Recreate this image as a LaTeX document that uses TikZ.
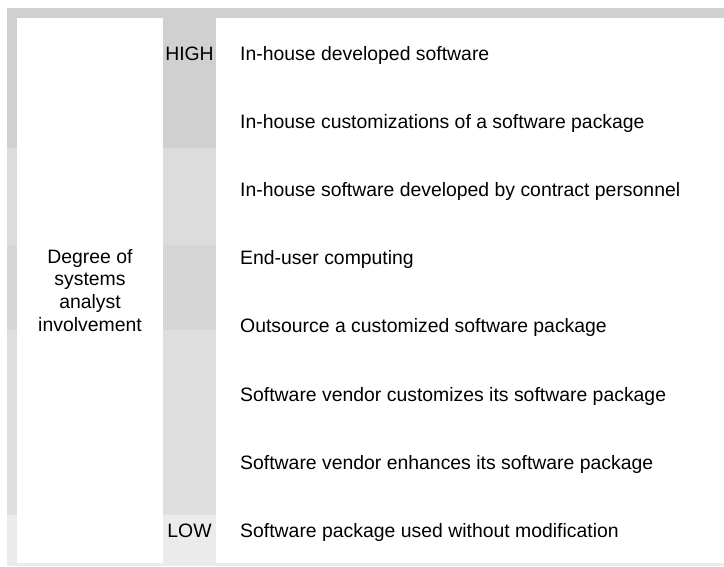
\documentclass[tikz,border=0pt]{standalone}
\usepackage{fontspec}
\setmainfont{Liberation Sans}
\definecolor{bandA}{HTML}{D0D0D0}
\definecolor{bandB}{HTML}{DCDCDC}
\definecolor{bandC}{HTML}{D5D5D5}
\definecolor{bandD}{HTML}{DFDFDF}
\definecolor{bandE}{HTML}{EBEBEB}
\begin{document}
\begin{tikzpicture}[x=1pt,y=1pt]
	\tikzstyle{every node}+=[inner sep=0pt, font=\fontsize{19.4}{22.6}\selectfont]
	\tikzstyle{choice}=[anchor=base west]
	\tikzstyle{level}=[anchor=base]
	\useasboundingbox (0,0) rectangle (724,-566);
	% shaded bands behind the panels
	\fill [bandA] (7,-8) rectangle (724,-148);
	\fill [bandB] (7,-148) rectangle (724,-245);
	\fill [bandC] (7,-245) rectangle (724,-330);
	\fill [bandD] (7,-330) rectangle (724,-515);
	\fill [bandE] (7,-515) rectangle (724,-566);
	% white panels
	\fill [white] (17,-18) rectangle (163,-563);
	\fill [white] (216,-18) rectangle (724,-563);
	% scale ends
	\node [level] (high) at (189.5,-60) {HIGH};
	\node [level] (low) at (189.5,-537.4) {LOW};
	\node [align=center, anchor=north] (degree) at (90,-249) {Degree of\\systems\\analyst\\involvement};
	% choices
	\node [choice] (c1) at (240,-60) {In-house developed software};
	\node [choice] (c2) at (240,-128.2) {In-house customizations of a software package};
	\node [choice] (c3) at (240,-196.4) {In-house software developed by contract personnel};
	\node [choice] (c4) at (240,-264.6) {End-user computing};
	\node [choice] (c5) at (240,-332.8) {Outsource a customized software package};
	\node [choice] (c6) at (240,-401) {Software vendor customizes its software package};
	\node [choice] (c7) at (240,-469.2) {Software vendor enhances its software package};
	\node [choice] (c8) at (240,-537.4) {Software package used without modification};
\end{tikzpicture}
\end{document}
